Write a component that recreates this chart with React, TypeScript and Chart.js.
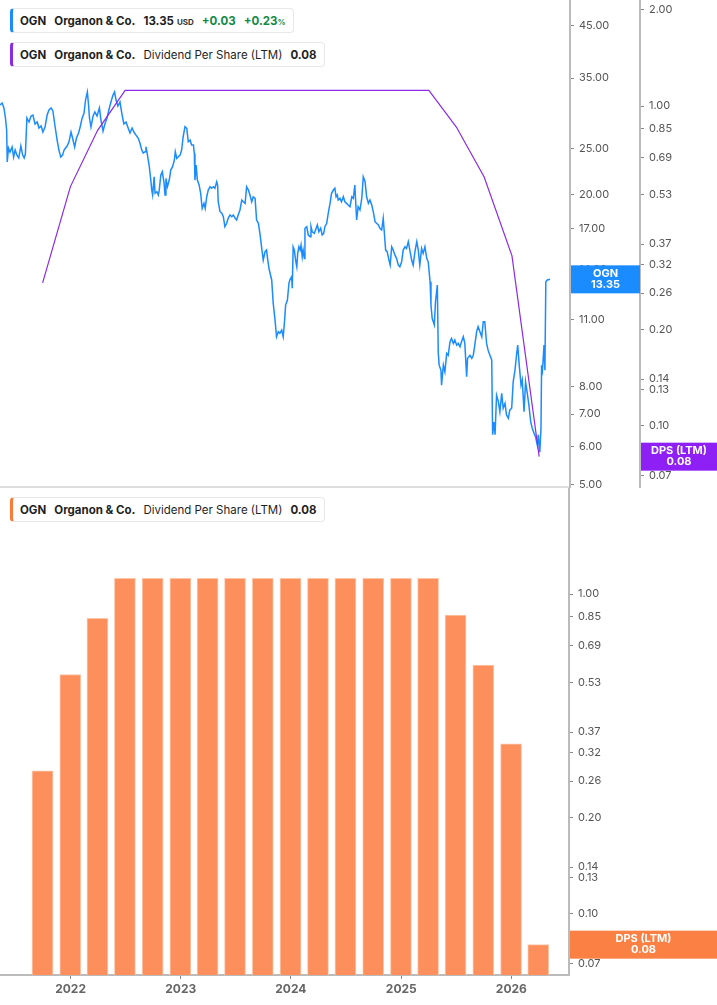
import { useEffect, useRef } from 'react'
import { Chart, registerables } from 'chart.js'

Chart.register(...registerables)
Chart.defaults.font.family = 'Inter, "Noto Sans", sans-serif'

// OGN close
const priceDates = [
  '2021-05-12', '2021-05-19', '2021-05-25', '2021-05-30', '2021-06-03', '2021-06-05', '2021-06-09', '2021-06-14',
  '2021-06-21', '2021-06-26', '2021-07-01', '2021-07-07', '2021-07-13', '2021-07-20', '2021-07-26', '2021-07-31',
  '2021-08-04', '2021-08-09', '2021-08-16', '2021-08-23', '2021-08-29', '2021-09-05', '2021-09-12', '2021-09-18',
  '2021-09-25', '2021-10-01', '2021-10-08', '2021-10-15', '2021-10-21', '2021-10-28', '2021-11-03', '2021-11-10',
  '2021-11-17', '2021-11-23', '2021-11-29', '2021-12-05', '2021-12-10', '2021-12-15', '2021-12-20', '2021-12-26',
  '2022-01-02', '2022-01-07', '2022-01-14', '2022-01-20', '2022-01-27', '2022-02-02', '2022-02-07', '2022-02-14',
  '2022-02-19', '2022-02-25', '2022-03-01', '2022-03-04', '2022-03-09', '2022-03-16', '2022-03-22', '2022-03-29',
  '2022-04-06', '2022-04-11', '2022-04-18', '2022-04-24', '2022-05-01', '2022-05-08', '2022-05-14', '2022-05-21',
  '2022-05-26', '2022-05-31', '2022-06-06', '2022-06-13', '2022-06-20', '2022-06-26', '2022-07-03', '2022-07-10',
  '2022-07-16', '2022-07-23', '2022-07-29', '2022-08-05', '2022-08-12', '2022-08-18', '2022-08-24', '2022-08-29',
  '2022-09-04', '2022-09-07', '2022-09-11', '2022-09-18', '2022-09-23', '2022-09-26', '2022-09-29', '2022-10-04',
  '2022-10-07', '2022-10-13', '2022-10-18', '2022-10-21', '2022-10-26', '2022-10-31', '2022-11-06', '2022-11-09',
  '2022-11-12', '2022-11-17', '2022-11-23', '2022-11-28', '2022-12-04', '2022-12-10', '2022-12-13', '2022-12-18',
  '2022-12-23', '2022-12-29', '2023-01-03', '2023-01-08', '2023-01-14', '2023-01-20', '2023-01-25', '2023-01-31',
  '2023-02-05', '2023-02-11', '2023-02-14', '2023-02-16', '2023-02-20', '2023-02-24', '2023-03-02', '2023-03-07',
  '2023-03-12', '2023-03-18', '2023-03-22', '2023-03-27', '2023-04-01', '2023-04-07', '2023-04-12', '2023-04-18',
  '2023-04-23', '2023-04-29', '2023-05-02', '2023-05-04', '2023-05-10', '2023-05-16', '2023-05-21', '2023-05-26',
  '2023-06-01', '2023-06-06', '2023-06-12', '2023-06-18', '2023-06-23', '2023-06-29', '2023-07-04', '2023-07-09',
  '2023-07-15', '2023-07-21', '2023-07-26', '2023-08-01', '2023-08-06', '2023-08-12', '2023-08-17', '2023-08-23',
  '2023-08-28', '2023-09-03', '2023-09-08', '2023-09-14', '2023-09-19', '2023-09-25', '2023-09-30', '2023-10-06',
  '2023-10-11', '2023-10-15', '2023-10-20', '2023-10-28', '2023-11-02', '2023-11-08', '2023-11-13', '2023-11-19',
  '2023-11-24', '2023-11-30', '2023-12-05', '2023-12-09', '2023-12-13', '2023-12-19', '2023-12-24', '2023-12-27',
  '2024-01-02', '2024-01-04', '2024-01-07', '2024-01-11', '2024-01-15', '2024-01-19', '2024-01-22', '2024-01-26',
  '2024-01-30', '2024-02-02', '2024-02-06', '2024-02-09', '2024-02-13', '2024-02-15', '2024-02-21', '2024-02-26',
  '2024-03-03', '2024-03-06', '2024-03-10', '2024-03-17', '2024-03-21', '2024-03-27', '2024-04-01', '2024-04-07',
  '2024-04-12', '2024-04-17', '2024-04-21', '2024-04-27', '2024-05-02', '2024-05-08', '2024-05-13', '2024-05-19',
  '2024-05-24', '2024-05-28', '2024-06-01', '2024-06-04', '2024-06-10', '2024-06-15', '2024-06-21', '2024-06-26',
  '2024-07-02', '2024-07-07', '2024-07-13', '2024-07-19', '2024-07-24', '2024-07-29', '2024-08-04', '2024-08-09',
  '2024-08-15', '2024-08-21', '2024-08-26', '2024-09-01', '2024-09-06', '2024-09-12', '2024-09-17', '2024-09-23',
  '2024-09-28', '2024-10-04', '2024-10-09', '2024-10-15', '2024-10-20', '2024-10-26', '2024-10-31', '2024-11-03',
  '2024-11-08', '2024-11-13', '2024-11-19', '2024-11-23', '2024-11-28', '2024-12-03', '2024-12-09', '2024-12-14',
  '2024-12-20', '2024-12-25', '2024-12-31', '2025-01-05', '2025-01-11', '2025-01-16', '2025-01-22', '2025-01-27',
  '2025-02-02', '2025-02-07', '2025-02-13', '2025-02-19', '2025-02-24', '2025-03-01', '2025-03-07', '2025-03-12',
  '2025-03-18', '2025-03-24', '2025-03-29', '2025-04-04', '2025-04-07', '2025-04-11', '2025-04-18', '2025-04-22',
  '2025-04-28', '2025-05-01', '2025-05-04', '2025-05-10', '2025-05-12', '2025-05-18', '2025-05-23', '2025-05-29',
  '2025-06-03', '2025-06-09', '2025-06-14', '2025-06-20', '2025-06-25', '2025-07-01', '2025-07-06', '2025-07-12',
  '2025-07-17', '2025-07-23', '2025-07-28', '2025-08-03', '2025-08-06', '2025-08-14', '2025-08-20', '2025-08-25',
  '2025-08-30', '2025-09-05', '2025-09-10', '2025-09-16', '2025-09-22', '2025-09-27', '2025-10-02', '2025-10-08',
  '2025-10-13', '2025-10-19', '2025-10-25', '2025-10-28', '2025-11-01', '2025-11-05', '2025-11-10', '2025-11-16',
  '2025-11-21', '2025-11-27', '2025-12-02', '2025-12-08', '2025-12-13', '2025-12-19', '2025-12-24', '2025-12-30',
  '2026-01-04', '2026-01-10', '2026-01-15', '2026-01-19', '2026-01-24', '2026-01-30', '2026-02-03', '2026-02-09',
  '2026-02-14', '2026-02-19', '2026-02-25', '2026-03-03', '2026-03-08', '2026-03-14', '2026-03-19', '2026-03-25',
  '2026-03-28', '2026-04-02', '2026-04-06', '2026-04-08', '2026-04-11', '2026-04-16', '2026-04-19', '2026-04-22',
  '2026-04-27', '2026-05-06',
]

const priceValues = [
  30.77, 31.07, 30.34, 28.92, 27.3, 23.42, 25.04, 24.56,
  25.16, 23.98, 24.8, 24.21, 23.87, 25.28, 24.21, 23.87,
  24.33, 28.92, 28.37, 29.19, 29.33, 28.1, 28.37, 27.56,
  27.83, 27.04, 27.69, 29.33, 30.05, 30.34, 29.91, 27.83,
  26.02, 24.8, 23.98, 24.21, 24.8, 25.04, 25.28, 25.77,
  27.04, 26.27, 25.16, 26.27, 26.91, 27.83, 28.78, 29.62,
  31.52, 32.76, 30.77, 28.92, 27.69, 29.19, 29.76, 29.19,
  30.34, 28.64, 27.17, 28.1, 28.92, 30.19, 31.22, 32.28,
  32.76, 31.52, 30.63, 31.22, 29.33, 28.1, 28.37, 27.56,
  26.91, 27.56, 27.04, 26.65, 26.27, 25.65, 24.8, 24.45,
  24.6, 25.19, 24.41, 22.9, 21.48, 20.48, 20.0, 21.82,
  20.16, 20.31, 20.0, 20.48, 22.0, 22.36, 21.14, 20.0,
  21.65, 20.81, 21.48, 22.54, 22.9, 23.64, 24.6, 23.83,
  24.02, 24.21, 24.8, 26.43, 27.74, 27.52, 25.81, 26.02,
  25.4, 25.4, 24.41, 21.48, 23.08, 21.48, 20.97, 20.16,
  18.76, 19.21, 18.76, 19.83, 20.48, 20.81, 20.65, 20.81,
  20.65, 21.31, 20.97, 19.36, 18.46, 18.32, 18.02, 17.18,
  17.46, 17.88, 18.17, 18.02, 18.17, 17.88, 17.74, 18.17,
  18.61, 19.52, 19.36, 19.21, 20.81, 20.48, 20.0, 19.36,
  19.83, 19.68, 17.74, 17.46, 16.64, 15.48, 14.64, 15.24,
  15.36, 14.64, 13.96, 13.31, 11.9, 10.99, 10.14, 10.39,
  10.31, 10.47, 10.14, 10.82, 11.8, 12.09, 13.1, 13.31,
  13.52, 12.8, 15.6, 15.36, 14.64, 14.18, 15.12, 15.6,
  15.36, 15.73, 14.87, 15.36, 14.76, 17.05, 17.18, 16.51,
  16.38, 17.18, 16.77, 16.64, 16.91, 17.32, 16.77, 17.05,
  16.51, 16.64, 17.18, 17.46, 18.32, 19.21, 20.16, 20.48,
  20.65, 19.83, 20.0, 19.52, 19.68, 19.36, 19.83, 19.36,
  19.21, 19.06, 18.91, 19.83, 19.68, 20.97, 17.74, 18.91,
  18.61, 19.68, 21.82, 21.31, 19.83, 19.21, 19.52, 19.06,
  18.46, 17.6, 17.46, 17.32, 17.05, 16.91, 17.88, 16.91,
  15.36, 15.24, 14.64, 14.29, 15.6, 15.36, 14.99, 14.76,
  14.29, 14.18, 14.52, 15.36, 15.6, 15.48, 15.99, 15.36,
  14.64, 14.29, 15.24, 15.99, 15.36, 14.29, 15.48, 15.12,
  15.6, 14.76, 14.5, 13.2, 11.8, 11.08, 10.73, 11.99,
  12.99, 9.43, 8.85, 8.64, 8.04, 8.85, 8.57, 9.36,
  9.28, 9.9, 10.06, 9.82, 9.98, 9.74, 9.82, 9.66,
  9.9, 10.14, 9.82, 8.37, 9.14, 9.28, 9.14, 9.28,
  9.74, 10.39, 10.64, 10.39, 10.14, 10.9, 10.9, 9.82,
  9.51, 9.28, 9.07, 6.34, 6.74, 6.34, 7.66, 7.43,
  7.08, 7.73, 7.2, 7.37, 6.97, 6.86, 7.14, 7.2,
  8.17, 8.64, 9.28, 9.74, 8.85, 8.04, 8.24, 7.08,
  8.17, 7.79, 7.31, 6.74, 6.54, 6.39, 6.28, 6.03,
  6.34, 5.83, 6.54, 8.85, 8.64, 9.74, 8.64, 13.2,
  13.31, 13.35,
]

// Dividend per share, trailing twelve months, by quarter end
const dpsDates = [
  '2021-09-30', '2021-12-31', '2022-03-31', '2022-06-30', '2022-09-30', '2022-12-31', '2023-03-31',
  '2023-06-30', '2023-09-30', '2023-12-31', '2024-03-31', '2024-06-30', '2024-09-30', '2024-12-31',
  '2025-03-31', '2025-06-30', '2025-09-30', '2025-12-31', '2026-03-31',
]
const dpsValues = [
  0.28, 0.56, 0.84, 1.12, 1.12, 1.12, 1.12, 1.12, 1.12, 1.12, 1.12, 1.12, 1.12, 1.12, 1.12, 0.86, 0.6, 0.34, 0.08,
]

const priceTicks = [5, 6, 7, 8, 11, 14, 17, 20, 25, 35, 45]
const dpsTicksTop = [0.07, 0.1, 0.13, 0.14, 0.2, 0.26, 0.32, 0.37, 0.53, 0.69, 0.85, 1, 2]
const dpsTicksBottom = [0.07, 0.1, 0.13, 0.14, 0.2, 0.26, 0.32, 0.37, 0.53, 0.69, 0.85, 1]
const yearTicks = [2022, 2023, 2024, 2025, 2026]

const ts = (d: string) => Date.parse(d + 'T00:00:00Z')
const X_MIN = ts('2021-05-12')
const X_MAX = ts('2026-07-11')
const DPS_MIN = 0.0643
const DPS_MAX = 2.148

const BLUE = '#1a8cff'
const PURPLE = '#8a2be8'
const ORANGE = '#fc8f5c'
const TICK_COLOR = '#555'

// draws the coloured value tag on an axis at the last point of a dataset
const tagPlugin = {
  id: 'valueTags',
  afterDraw(chart: any, _args: any, opts: any) {
    const ctx = chart.ctx
    for (const t of opts.tags || []) {
      const scale = chart.scales[t.axis]
      const data = chart.data.datasets[t.dataset].data
      const y = scale.getPixelForValue(data[data.length - 1].y)
      const left = scale.left + 1
      const w = scale.right - left
      ctx.save()
      ctx.fillStyle = t.color
      ctx.fillRect(left, y - 14, w, 28)
      ctx.fillStyle = '#fff'
      ctx.font = 'bold 11px Inter, sans-serif'
      ctx.textAlign = 'center'
      ctx.textBaseline = 'middle'
      ctx.fillText(t.lines[0], left + w / 2, y - 6)
      ctx.fillText(t.lines[1], left + w / 2, y + 5)
      ctx.restore()
    }
  },
}

const noPad = (s: any) => {
  s.paddingTop = 0
  s.paddingBottom = 0
  s.paddingLeft = 0
  s.paddingRight = 0
}

function logAxis(ticks: number[], min: number, max: number, width: number, weight: number) {
  return {
    type: 'logarithmic' as const,
    position: 'right' as const,
    min,
    max,
    weight,
    afterBuildTicks: (s: any) => {
      s.ticks = ticks.map((v) => ({ value: v }))
    },
    afterFit: (s: any) => {
      s.width = width
      noPad(s)
    },
    ticks: {
      autoSkip: false,
      color: TICK_COLOR,
      padding: 5,
      font: { size: 11 },
      callback: (v: any) => Number(v).toFixed(2),
    },
    grid: { drawOnChartArea: false, tickLength: 4, color: '#888' },
    border: { color: '#bbb', width: 2 },
  }
}

function Legend({ top, color, children }: { top: number; color: string; children: any }) {
  return (
    <div
      style={{
        position: 'absolute',
        left: 10,
        top,
        height: 25,
        display: 'flex',
        alignItems: 'center',
        gap: 8,
        padding: '0 7px 0 7px',
        boxSizing: 'border-box',
        background: '#fff',
        border: '1px solid #e8e8e8',
        borderLeft: `3px solid ${color}`,
        borderRadius: 4,
        font: 'bold 11.5px Inter, sans-serif',
        color: '#1f1f1f',
        whiteSpace: 'nowrap',
      }}
    >
      {children}
    </div>
  )
}

export default function App() {
  const topRef = useRef<HTMLCanvasElement>(null)
  const bottomRef = useRef<HTMLCanvasElement>(null)

  useEffect(() => {
    if (!topRef.current || !bottomRef.current) return

    const dpsPoints = dpsDates.map((d, i) => ({ x: ts(d), y: dpsValues[i] }))
    const pricePoints = priceDates.map((d, i) => ({ x: ts(d), y: priceValues[i] }))

    const top = new Chart(topRef.current, {
      type: 'line',
      data: {
        datasets: [
          {
            data: dpsPoints,
            yAxisID: 'dps',
            borderColor: PURPLE,
            borderWidth: 1.2,
            pointRadius: 0,
            tension: 0,
          },
          {
            data: pricePoints,
            yAxisID: 'price',
            borderColor: BLUE,
            borderWidth: 1.5,
            pointRadius: 0,
            tension: 0,
          },
        ],
      },
      options: {
        responsive: false,
        animation: false,
        events: [],
        layout: { padding: 0 },
        plugins: {
          legend: { display: false },
          tooltip: { enabled: false },
          valueTags: {
            tags: [
              { axis: 'price', dataset: 1, color: BLUE, lines: ['OGN', '13.35'] },
              { axis: 'dps', dataset: 0, color: '#8e1ff5', lines: ['DPS (LTM)', '0.08'] },
            ],
          },
        } as any,
        scales: {
          x: {
            type: 'linear',
            min: X_MIN,
            max: X_MAX,
            ticks: { display: false },
            grid: { display: false, drawTicks: false },
            border: { color: '#dddddd', width: 2 },
            afterFit: (s: any) => {
              s.height = 1
              noPad(s)
            },
          },
          price: logAxis(priceTicks, 4.936, 50.9, 70, 0),
          dps: logAxis(dpsTicksTop, DPS_MIN, DPS_MAX, 77, 1),
        },
      },
      plugins: [tagPlugin],
    })

    const bottom = new Chart(bottomRef.current, {
      type: 'bar',
      data: {
        datasets: [
          {
            data: dpsPoints,
            yAxisID: 'dps',
            backgroundColor: ORANGE,
            borderColor: '#fdc7ab',
            borderWidth: { top: 1, left: 1, right: 1, bottom: 0 },
            barThickness: 21,
          },
        ],
      },
      options: {
        responsive: false,
        animation: false,
        events: [],
        layout: { padding: 0 },
        plugins: {
          legend: { display: false },
          tooltip: { enabled: false },
          valueTags: {
            tags: [{ axis: 'dps', dataset: 0, color: '#fb8044', lines: ['DPS (LTM)', '0.08'] }],
          },
        } as any,
        scales: {
          x: {
            type: 'linear',
            min: X_MIN,
            max: X_MAX,
            offset: false,
            afterBuildTicks: (s: any) => {
              s.ticks = yearTicks.map((y) => ({ value: Date.UTC(y, 0, 1) }))
            },
            afterFit: (s: any) => {
              s.height = 30
              noPad(s)
            },
            ticks: {
              color: '#666',
              padding: 3,
              font: { size: 12, weight: 'bold' },
              callback: (v: any) => String(new Date(v).getUTCFullYear()),
            },
            grid: { drawOnChartArea: false, offset: false, tickLength: 4, color: '#888' },
            border: { color: '#bbb', width: 2 },
          },
          dps: logAxis(dpsTicksBottom, DPS_MIN, DPS_MAX, 148, 0),
        },
      },
      plugins: [tagPlugin],
    })

    return () => {
      top.destroy()
      bottom.destroy()
    }
  }, [])

  const green = { color: '#138a47' }

  return (
    <div style={{ position: 'absolute', left: 0, top: 0, width: 717, height: 1005, background: '#fff' }}>
      <canvas ref={topRef} width={717} height={488} style={{ position: 'absolute', left: 0, top: 0 }} />
      <canvas ref={bottomRef} width={717} height={517} style={{ position: 'absolute', left: 0, top: 488 }} />
      <Legend top={8} color={BLUE}>
        <span>OGN</span>
        <span>Organon &amp; Co.</span>
        <span>
          13.35
          <span style={{ fontSize: 8, marginLeft: 3, color: '#333' }}>USD</span>
        </span>
        <span style={green}>+0.03</span>
        <span style={green}>
          +0.23<span style={{ fontSize: 8 }}>%</span>
        </span>
      </Legend>
      <Legend top={42} color={PURPLE}>
        <span>OGN</span>
        <span>Organon &amp; Co.</span>
        <span style={{ fontWeight: 400 }}>Dividend Per Share (LTM)</span>
        <span>0.08</span>
      </Legend>
      <Legend top={497} color="#fb7a35">
        <span>OGN</span>
        <span>Organon &amp; Co.</span>
        <span style={{ fontWeight: 400 }}>Dividend Per Share (LTM)</span>
        <span>0.08</span>
      </Legend>
    </div>
  )
}
